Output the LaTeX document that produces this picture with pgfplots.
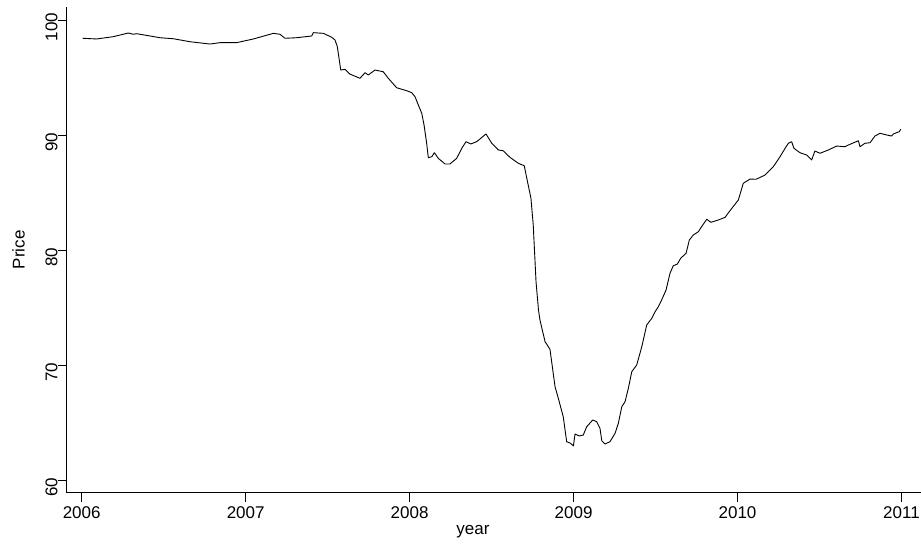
\documentclass[border=0pt]{standalone}
\usepackage{fontspec}
\setmainfont{Liberation Sans}
\usepackage{pgfplots}
\pgfplotsset{compat=1.18}
\pgfplotstableread{
year price
2006.006 98.41
2006.091 98.35
2006.193 98.55
2006.284 98.87
2006.315 98.76
2006.335 98.81
2006.478 98.46
2006.559 98.37
2006.661 98.11
2006.783 97.91
2006.844 98.03
2006.945 98.03
2007.047 98.35
2007.169 98.84
2007.209 98.76
2007.240 98.41
2007.311 98.46
2007.403 98.61
2007.413 98.90
2007.474 98.84
2007.525 98.50
2007.545 98.26
2007.559 97.68
2007.580 95.65
2007.606 95.71
2007.636 95.30
2007.697 94.93
2007.728 95.42
2007.748 95.22
2007.789 95.65
2007.839 95.50
2007.870 94.93
2007.921 94.11
2007.982 93.85
2008.013 93.68
2008.033 93.33
2008.053 92.61
2008.074 91.89
2008.088 90.87
2008.104 89.28
2008.114 88.03
2008.135 88.11
2008.151 88.46
2008.175 87.97
2008.216 87.48
2008.246 87.48
2008.287 87.97
2008.318 88.84
2008.344 89.42
2008.373 89.22
2008.409 89.42
2008.466 90.09
2008.501 89.28
2008.541 88.70
2008.571 88.63
2008.612 88.06
2008.663 87.54
2008.699 87.33
2008.719 85.94
2008.740 84.50
2008.754 82.17
2008.771 77.24
2008.786 74.78
2008.795 73.91
2008.826 72.03
2008.856 71.37
2008.887 68.11
2008.907 67.10
2008.937 65.50
2008.958 63.33
2008.982 63.19
2008.999 62.96
2009.009 64.00
2009.035 63.83
2009.059 63.91
2009.080 64.63
2009.117 65.22
2009.141 65.07
2009.161 64.50
2009.172 63.42
2009.192 63.13
2009.222 63.33
2009.253 64.06
2009.273 64.93
2009.294 66.37
2009.314 66.81
2009.334 67.97
2009.355 69.42
2009.385 70.00
2009.416 71.59
2009.446 73.48
2009.477 74.06
2009.497 74.63
2009.517 75.07
2009.537 75.65
2009.564 76.52
2009.588 77.97
2009.608 78.63
2009.633 78.78
2009.653 79.28
2009.686 79.71
2009.706 80.87
2009.730 81.30
2009.761 81.59
2009.781 82.03
2009.812 82.67
2009.838 82.41
2009.883 82.61
2009.924 82.84
2009.954 83.42
2010.005 84.35
2010.035 85.80
2010.076 86.17
2010.113 86.15
2010.168 86.52
2010.218 87.24
2010.259 88.11
2010.290 88.84
2010.310 89.28
2010.330 89.42
2010.344 88.84
2010.381 88.46
2010.422 88.26
2010.452 87.83
2010.472 88.61
2010.503 88.41
2010.554 88.70
2010.605 89.04
2010.655 88.98
2010.676 89.13
2010.737 89.50
2010.747 88.98
2010.777 89.28
2010.808 89.33
2010.838 89.91
2010.869 90.15
2010.910 90.00
2010.940 89.91
2010.950 90.09
2010.987 90.29
2010.995 90.50
}\pricedata
\begin{document}
\begin{tikzpicture}[x=1pt,y=1pt]
\useasboundingbox (0,0) rectangle (921,544);
\begin{axis}[
  at={(66.7pt,51.3pt)}, anchor=south west,
  scale only axis, width=854.3pt, height=486pt,
  xmin=2005.9085, xmax=2011.119,
  ymin=58.896, ymax=101.157,
  axis x line=bottom, axis y line=left,
  axis line style={-, line width=0.8pt, black},
  tick align=outside, major tick length=9pt,
  tick style={line width=0.8pt, black},
  xtick={2006,2007,2008,2009,2010,2011},
  ytick={60,70,80,90,100},
  /pgf/number format/assume math mode=true,
  /pgf/number format/1000 sep={},
  tick label style={font=\fontsize{17pt}{20pt}\selectfont},
  xticklabel style={anchor=north, inner sep=0pt, yshift=-5pt},
  yticklabel style={rotate=90, anchor=south, inner sep=0pt, xshift=-7pt},
  xlabel={year}, ylabel={Price},
  label style={font=\fontsize{17pt}{20pt}\selectfont},
  xlabel style={at={(axis description cs:0.4756,0)}, anchor=base, yshift=-42pt, inner sep=0pt},
  ylabel style={at={(axis description cs:-0.0488,0.5)}, anchor=south, inner sep=0pt},
  clip=false,
]
\addplot[black, line width=0.9pt, line join=round, mark=none] table[x=year,y=price] {\pricedata};
\end{axis}
\end{tikzpicture}
\end{document}
